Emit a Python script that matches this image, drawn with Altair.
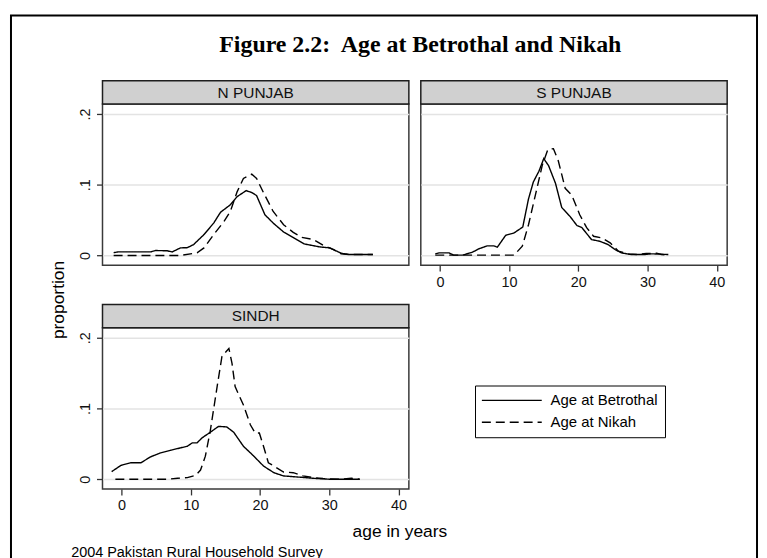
import altair as alt
import pandas as pd

# ---------------- data ----------------
REGIONS = ["N PUNJAB", "S PUNJAB", "SINDH"]
SERIES = ["Age at Betrothal", "Age at Nikah"]
TITLE = "Figure 2.2:\u00a0 Age at Betrothal and Nikah"
Y_TITLE = "proportion"
X_TITLE = "age in years"
NOTE = "2004 Pakistan Rural Household Survey"
X_TICKS = [0, 10, 20, 30, 40]
Y_TICKS = [0, 0.1, 0.2]

np_bet_age = [-1.15, -0.5, 1, 2, 3, 4.2, 4.9, 6.6, 7.3, 8.5, 9.5, 10.4, 11.9, 13.3, 14.3, 15.7,
              16.7, 18.0, 18.8, 19.5, 20.7, 21.9, 23.4, 25.3, 26.4, 28.6, 30.1, 31.7, 32.9, 36.3]
np_bet_p = [.004, .005, .005, .005, .005, .005, .007, .0066, .005, .0107, .011, .0154, .0295, .0458,
            .0612, .0716, .0833, .0917, .089, .0847, .0576, .0458, .0332, .0225, .0163, .0121, .0107,
            .0032, .0013, .0013]
np_nik_age = [-1.15, 2, 5, 8.5, 10.9, 11.9, 13.3, 14.8, 15.7, 16.7, 17.6, 18.8, 19.5, 20.5, 21.9,
              23.4, 24.8, 26.0, 27.7, 29.1, 30.6, 31.7, 32.9, 36.3]
np_nik_p = [0, 0, 0, 0, .0037, .0107, .0295, .0482, .0622, .0903, .109, .115, .109, .0888, .0622,
            .0435, .0327, .0257, .0225, .0145, .0084, .0023, .0013, .0013]

sp_bet_age = [-0.67, -0.1, 1.3, 2.0, 3.25, 4.7, 5.6, 6.8, 7.8, 8.3, 9.5, 10.7, 11.97, 12.8, 13.5,
              14.3, 15.0, 15.7, 16.7, 17.6, 18.8, 19.8, 20.5, 21.9, 23.1, 24.3, 25.3, 26.2, 27.6,
              29.6, 30.5, 31.5, 33.0]
sp_bet_p = [.0023, .0037, .0037, .0004, .0004, .0046, .0093, .0135, .0135, .0117, .0285, .0318,
            .0402, .08, .104, .119, .137, .127, .102, .0678, .0552, .0423, .0395, .0225, .0201,
            .0154, .0084, .0037, .0013, .0013, .0023, .002, .0013]
sp_nik_age = [-0.67, 2, 5, 8, 10.7, 11.9, 12.8, 13.8, 14.8, 15.6, 16.4, 17.1, 18.1, 19.05, 20.2,
              21.2, 22.2, 23.4, 24.6, 25.8, 27.2, 28.6, 29.8, 31.3, 32, 33]
sp_nik_p = [.0004, .0004, .0004, .0004, .0004, .013, .0435, .0857, .128, .15, .151, .134, .095,
            .0854, .0576, .0393, .0271, .0248, .0178, .006, .0023, .0013, .0028, .0032, .0013, .0008]

sd_bet_age = [-1.44, -0.1, 1.33, 2.8, 4.2, 5.65, 7.1, 8.5, 9.5, 10.2, 10.9, 11.6, 12.8, 14.0, 15.2,
              16.2, 17.6, 19.1, 20.5, 22.0, 23.4, 25.3, 27.7, 30.1, 34.4]
sd_bet_p = [.0108, .0196, .0234, .0234, .0318, .0374, .0411, .0444, .0467, .0514, .0514, .0584,
            .0664, .0748, .074, .0664, .0467, .0327, .0187, .0093, .0047, .0033, .0014, 0, 0]
sd_nik_age = [-0.9, 2, 6.6, 8.1, 9.5, 10.7, 11.4, 12.1, 12.8, 13.8, 14.5, 15.5, 15.95, 16.4, 17.6,
              18.6, 19.3, 19.9, 20.5, 21.2, 22.0, 23.4, 24.8, 26.2, 27.7, 29.1, 31.5, 33.2, 34.4]
sd_nik_p = [0, 0, 0, .0014, .0023, .0056, .013, .0327, .0678, .131, .174, .185, .164, .131, .105,
            .0771, .0654, .0654, .0467, .0234, .0187, .0103, .0093, .0047, .0023, .001, 0, .0014, 0]

rows = []
def add(region, series, ages, props):
    for a, p in zip(ages, props):
        rows.append({"region": region, "series": series, "age": a, "p": p})

add(REGIONS[0], SERIES[0], np_bet_age, np_bet_p)
add(REGIONS[0], SERIES[1], np_nik_age, np_nik_p)
add(REGIONS[1], SERIES[0], sp_bet_age, sp_bet_p)
add(REGIONS[1], SERIES[1], sp_nik_age, sp_nik_p)
add(REGIONS[2], SERIES[0], sd_bet_age, sd_bet_p)
add(REGIONS[2], SERIES[1], sd_nik_age, sd_nik_p)
df = pd.DataFrame(rows)

# ---------------- layout / style ----------------
W, H = 308, 162
XDOM = [-2.76, 41.5]
YDOM = [-0.0137, 0.2142]
FONT = "Liberation Sans, Arial, sans-serif"
SERIF = "Liberation Serif, Times New Roman, serif"

# custom horizontal line symbol: half-length 4.3 units * sqrt(196)/2 = ~30 px
LEGEND = alt.Legend(
    title=None, orient="none", legendX=374.5, legendY=283, direction="vertical",
    symbolType="M-4.3,0L4.3,0", symbolSize=196, symbolOffset=22, symbolStrokeWidth=1.4,
    symbolStrokeColor="black", symbolFillColor="transparent",
    labelFont=FONT, labelFontSize=15, labelColor="black", labelOffset=31, labelLimit=300,
    strokeColor="black", fillColor="white", padding=7, rowPadding=6,
)

YLAB = "datum.value == 0 ? '0' : replace(format(datum.value, '.1f'), '0.', '.')"
y_axis_full = alt.Axis(values=Y_TICKS, labelExpr=YLAB, labelAngle=270, labelAlign="center",
                       labelBaseline="bottom", labelPadding=4, grid=True, title=None)
y_axis_grid = alt.Axis(values=Y_TICKS, labels=False, ticks=False, grid=True, title=None)
x_axis_full = alt.Axis(values=X_TICKS, grid=False, labelPadding=4, title=None)


def panel(region, xaxis, yaxis, extras=()):
    sub = df[df.region == region]
    lines = alt.Chart(sub).mark_line(color="black", strokeWidth=1.4).encode(
        x=alt.X("age:Q", scale=alt.Scale(domain=XDOM, nice=False, zero=False), axis=xaxis),
        y=alt.Y("p:Q", scale=alt.Scale(domain=YDOM, nice=False, zero=False), axis=yaxis),
        strokeDash=alt.StrokeDash("series:N",
                                  scale=alt.Scale(domain=SERIES, range=[[1, 0], [9, 5]]),
                                  legend=LEGEND),
    )
    strip_df = pd.DataFrame({"label": [region]})
    strip = alt.Chart(strip_df).mark_rect(fill="#d0d0d0", stroke="#1e1e1e", strokeWidth=1.5).encode(
        x=alt.value(0), x2=alt.value(W), y=alt.value(-23.5), y2=alt.value(0))
    strip_text = alt.Chart(strip_df).mark_text(font=FONT, fontSize=15.5, color="#111",
                                               baseline="middle", align="center").encode(
        x=alt.value(W / 2), y=alt.value(-11.5), text="label:N")
    return alt.layer(strip, lines, strip_text, *extras).properties(width=W, height=H)


title_mark = alt.Chart(pd.DataFrame({"t": [TITLE]})).mark_text(
    font=SERIF, fontWeight="bold", fontSize=24, color="black", align="center",
    baseline="alphabetic").encode(x=alt.value(319.5), y=alt.value(-52.5), text="t:N")
ytitle_mark = alt.Chart(pd.DataFrame({"t": [Y_TITLE]})).mark_text(
    font=FONT, fontSize=17.5, color="black", align="center", baseline="middle",
    angle=270).encode(x=alt.value(-43.5), y=alt.value(197), text="t:N")
frame_mark = alt.Chart(pd.DataFrame({"t": [TITLE]})).mark_rect(
    filled=False, stroke="black", strokeWidth=2).encode(
    x=alt.value(-92), y=alt.value(-89), x2=alt.value(658), y2=alt.value(473))
xtitle_mark = alt.Chart(pd.DataFrame({"t": [X_TITLE]})).mark_text(
    font=FONT, fontSize=17.5, color="black", align="center", baseline="alphabetic").encode(
    x=alt.value(299), y=alt.value(210), text="t:N")
note_mark = alt.Chart(pd.DataFrame({"t": [NOTE]})).mark_text(
    font=FONT, fontSize=14.5, color="black", align="left", baseline="alphabetic").encode(
    x=alt.value(-31.5), y=alt.value(230.5), text="t:N")

np_panel = panel(REGIONS[0], None, y_axis_full, [frame_mark, title_mark, ytitle_mark])
sp_panel = panel(REGIONS[1], x_axis_full, y_axis_grid)
sd_panel = panel(REGIONS[2], x_axis_full, y_axis_full, [xtitle_mark, note_mark])

chart = alt.concat(
    np_panel, sp_panel, sd_panel, columns=2,
    spacing={"row": 63, "column": 12}, bounds="flush",
).properties(
    padding={"left": 1, "top": 4, "right": 0, "bottom": 0}, background="white",
).configure_view(
    stroke="#3a3a3a", strokeWidth=1.5,
).configure_axis(
    labelFont=FONT, labelFontSize=14.5, labelColor="#111", tickColor="#333", tickWidth=1.3,
    tickSize=6, gridColor="#e3e3e3", gridWidth=1.5, domain=False,
)

chart.save("out.html", embed_options={"renderer": "svg", "actions": False})
